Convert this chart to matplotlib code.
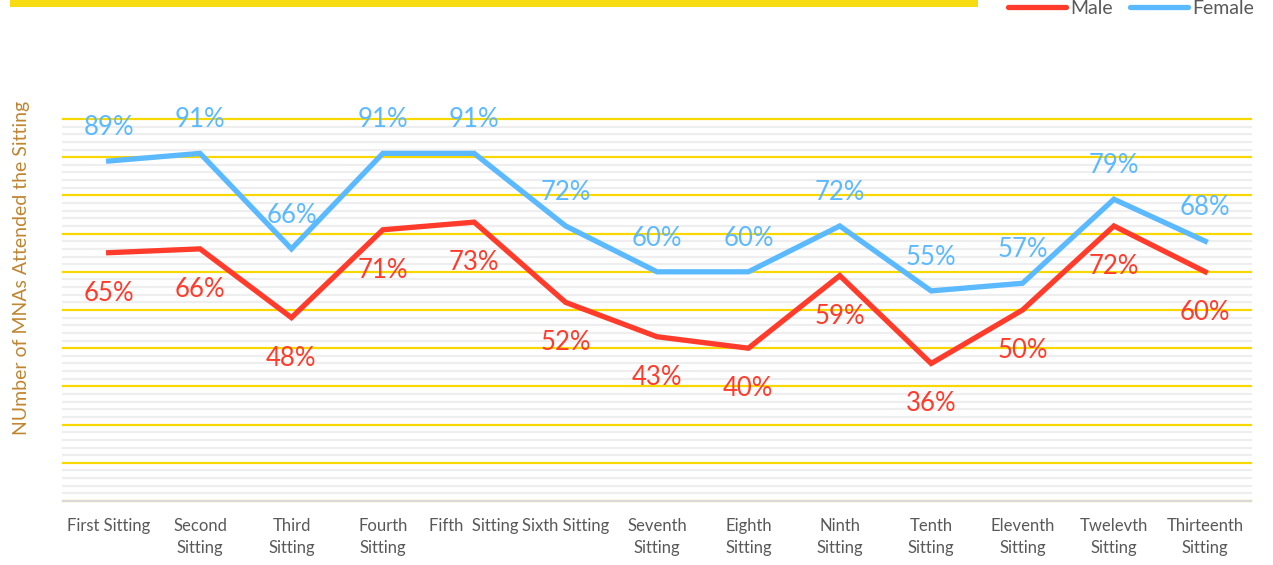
import matplotlib
matplotlib.use("Agg")
import matplotlib.pyplot as plt
from matplotlib.ticker import MultipleLocator
from matplotlib.patches import Rectangle

categories = ["First Sitting", "Second\nSitting", "Third\nSitting", "Fourth\nSitting",
              "Fifth  Sitting", "Sixth Sitting", "Seventh\nSitting", "Eighth\nSitting",
              "Ninth\nSitting", "Tenth\nSitting", "Eleventh\nSitting", "Twelevth\nSitting",
              "Thirteenth\nSitting"]
male = [65, 66, 48, 71, 73, 52, 43, 40, 59, 36, 50, 72, 60]
female = [89, 91, 66, 91, 91, 72, 60, 60, 72, 55, 57, 79, 68]
male_labels = ["65%", "66%", "48%", "71%", "73%", "52%", "43%", "40%", "59%", "36%", "50%", "72%", "60%"]
female_labels = ["89%", "91%", "66%", "91%", "91%", "72%", "60%", "60%", "72%", "55%", "57%", "79%", "68%"]

RED = "#FF3B2B"
BLUE = "#5BB9FF"
YELLOW = "#F8D800"
GRAY_TXT = "#595959"
FONT = "Lato"

plt.rcParams["font.family"] = [FONT, "DejaVu Sans"]

W, H = 1273, 565
fig = plt.figure(figsize=(W / 100, H / 100), dpi=100)

# title bar (mostly cut off at top)
fig.patches.append(Rectangle((10 / W, 1 - 7 / H), (978 - 10) / W, 7 / H,
                             transform=fig.transFigure, facecolor="#F7DC14",
                             edgecolor="none", zorder=0))
fig.text(20 / W, 1 + 3 / H, "Figure: Average Attendance of Male and Female MNAs by Sitting",
         fontsize=14, fontweight="bold", color="black", va="baseline", ha="left")

left, right, top, bottom = 63, 1251, 119, 501
ax = fig.add_axes([left / W, 1 - bottom / H, (right - left) / W, (bottom - top) / H])

x = list(range(len(categories)))
ax.plot(x, female, color=BLUE, lw=3.8, label="Female", zorder=4, solid_joinstyle="miter")
ax.plot(x, male, color=RED, lw=3.8, label="Male", zorder=4, solid_joinstyle="miter")

for xi, v, lab in zip(x, female, female_labels):
    ax.annotate(lab, (xi, v), xytext=(0, 26), textcoords="offset pixels",
                ha="center", va="baseline", fontsize=18.5, color=BLUE, zorder=5)
for xi, v, lab in zip(x, male, male_labels):
    ax.annotate(lab, (xi, v), xytext=(0, -48), textcoords="offset pixels",
                ha="center", va="baseline", fontsize=18.5, color=RED, zorder=5)

ax.set_xlim(-0.5, len(categories) - 0.5)
ax.set_ylim(0, 100)
ax.yaxis.set_major_locator(MultipleLocator(10))
ax.yaxis.set_minor_locator(MultipleLocator(2))
ax.grid(True, which="minor", axis="y", color="#EEEEEE", lw=1.6, zorder=1, clip_on=False)
ax.grid(True, which="major", axis="y", color=YELLOW, lw=1.6, zorder=2, clip_on=False)
ax.set_axisbelow(True)
for s in ax.spines.values():
    s.set_visible(False)
ax.axhline(0, color="#D9D9D9", lw=1.6, zorder=3, clip_on=False)
ax.tick_params(axis="y", which="both", left=False, labelleft=False)
ax.tick_params(axis="x", length=0, pad=12)
ax.set_xticks(x)
ax.set_xticklabels(categories, fontsize=12, color=GRAY_TXT, linespacing=1.45, va="top")

fig.text(22 / W, 1 - 268 / H, "NUmber of MNAs Attended the Sitting", rotation=90,
         fontsize=14, color="#C08530", ha="center", va="center")

h1, = ax.plot([], [], color=RED, lw=3.8, solid_capstyle="round")
h2, = ax.plot([], [], color=BLUE, lw=3.8, solid_capstyle="round")
fig.legend([h1, h2], ["Male", "Female"], loc="center right",
           bbox_to_anchor=(1254 / W, 1 - 8 / H), ncol=2, frameon=False,
           fontsize=14, labelcolor=GRAY_TXT, handlelength=3.0, handletextpad=0.2,
           columnspacing=0.9, borderpad=0, borderaxespad=0)

fig.savefig("out.png", dpi=100)
